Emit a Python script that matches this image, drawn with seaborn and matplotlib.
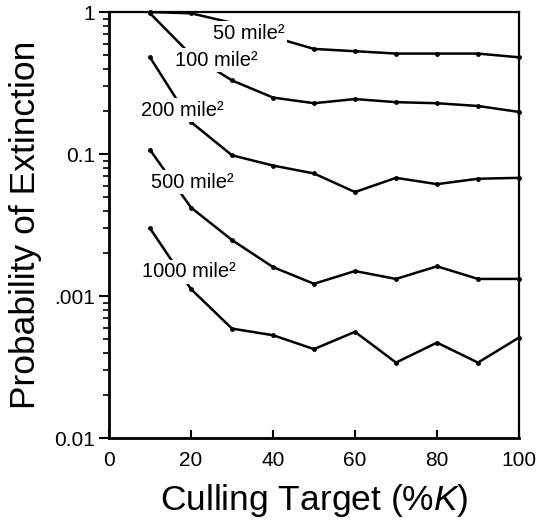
import numpy as np
import pandas as pd
import matplotlib
matplotlib.use("Agg")
import matplotlib.pyplot as plt
from matplotlib.ticker import FixedLocator, FixedFormatter, LogLocator, NullFormatter
import seaborn as sns

sns.set_style("white")
plt.rcParams['font.family'] = ['Liberation Sans', 'DejaVu Sans']
plt.rcParams['mathtext.fontset'] = 'custom'
plt.rcParams['mathtext.rm'] = 'Liberation Sans'
plt.rcParams['mathtext.it'] = 'Liberation Sans:italic'
plt.rcParams['text.color'] = 'black'
plt.rcParams['axes.labelcolor'] = 'black'
plt.rcParams['xtick.color'] = 'black'
plt.rcParams['ytick.color'] = 'black'

# Data
culling = [10, 20, 30, 40, 50, 60, 70, 80, 90, 100]
p_50 = [1.0, 0.98, 0.84, 0.667, 0.55, 0.53, 0.51, 0.51, 0.51, 0.48]
p_100 = [0.98, 0.50, 0.33, 0.25, 0.228, 0.244, 0.232, 0.228, 0.218, 0.198]
p_200 = [0.48, 0.168, 0.098, 0.083, 0.073, 0.054, 0.068, 0.0614, 0.067, 0.068]
p_500 = [0.107, 0.042, 0.0248, 0.016, 0.0122, 0.0150, 0.0132, 0.0162, 0.0132, 0.0132]
p_1000 = [0.030, 0.0112, 0.0059, 0.0053, 0.00423, 0.0056, 0.0034, 0.0047, 0.0034, 0.0051]
areas = ["50 mile²", "100 mile²", "200 mile²", "500 mile²", "1000 mile²"]
ytick_vals = [1e-3, 1e-2, 1e-1, 1]
ytick_labels = ["0.01", ".001", "0.1", "1"]
xtick_vals = [0, 20, 40, 60, 80, 100]

series = [p_50, p_100, p_200, p_500, p_1000]
df = pd.concat([pd.DataFrame({"x": culling, "p": s, "area": a}) for s, a in zip(series, areas)],
               ignore_index=True)

fig = plt.figure(figsize=(5.41, 5.24), dpi=100)
ax = fig.add_axes([0.2015, 0.164, 0.7578, 0.813])

sns.lineplot(data=df, x="x", y="p", hue="area", palette=["black"] * 5,
             marker="o", markersize=3.5, markeredgewidth=0, linewidth=1.8,
             legend=False, ax=ax, zorder=2, clip_on=False)

ax.set_yscale("log")
ax.set_xlim(0, 100)
ax.set_ylim(1e-3, 1)

ax.yaxis.set_major_locator(FixedLocator(ytick_vals))
ax.yaxis.set_major_formatter(FixedFormatter(ytick_labels))
ax.yaxis.set_minor_locator(LogLocator(base=10, subs=np.arange(2, 10)))
ax.yaxis.set_minor_formatter(NullFormatter())
ax.set_xticks(xtick_vals)

ax.tick_params(axis="y", which="major", direction="out", length=7, width=1.5,
               labelsize=15, left=True, right=False, pad=3, colors="black")
ax.tick_params(axis="y", which="minor", direction="out", length=4, width=1.2,
               left=True, right=False, colors="black")
ax.tick_params(axis="x", which="major", direction="in", length=6, width=1.5,
               labelsize=15, bottom=True, top=False, pad=9, colors="black")

for side in ["left", "bottom"]:
    ax.spines[side].set_linewidth(2.0)
for side in ["top", "right"]:
    ax.spines[side].set_linewidth(1.6)
for s in ax.spines.values():
    s.set_color("black")

ax.set_xlabel("Culling Target (%$K$)", fontsize=25.5, labelpad=9, color="black")
ax.set_ylabel("Probability of Extinction", fontsize=25.5, labelpad=9, color="black")

label_pos = [(34.1, 0.711), (26.1, 0.459), (18.0, 0.204), (20.2, 0.0635), (19.5, 0.0148)]
for (lx, ly), a in zip(label_pos, areas):
    ax.text(lx, ly, a, fontsize=14.5, ha="center", va="center", zorder=5, color="black",
            bbox=dict(facecolor="white", edgecolor="none", pad=2.0))

fig.savefig("out.png", dpi=100)
